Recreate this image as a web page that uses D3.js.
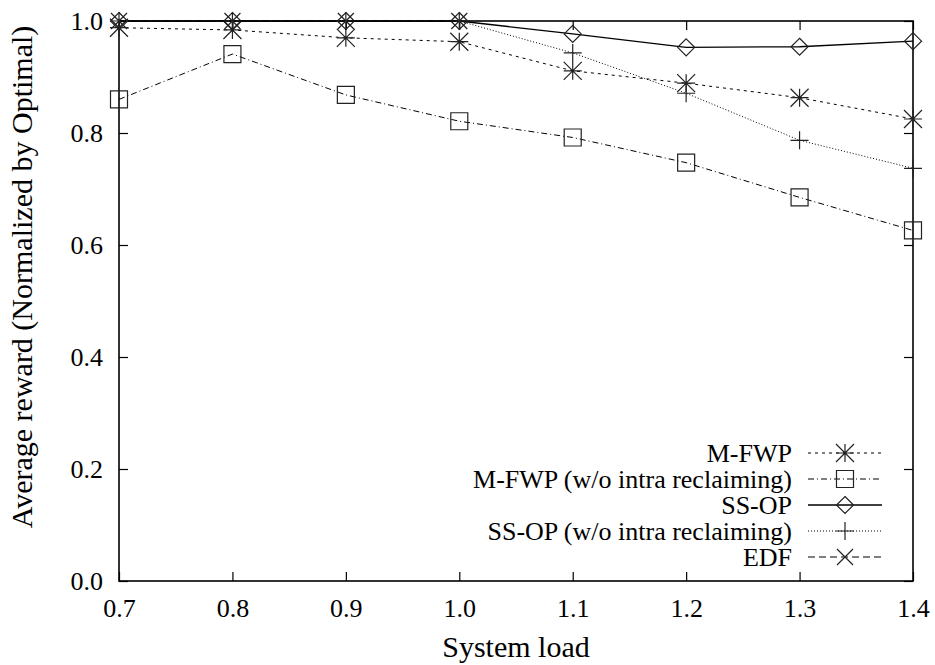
<!DOCTYPE html>
<html>
<head>
<meta charset="utf-8">
<script src="https://cdn.jsdelivr.net/npm/d3@7"></script>
<style>
  body { margin: 0; background: #fff; }
  svg text { font-family: "Liberation Serif", Tinos, "Times New Roman", "DejaVu Serif", serif; fill: #000; }
</style>
</head>
<body>
<svg id="chart" width="935" height="665"></svg>
<script>
// Data
const loads = [0.7, 0.8, 0.9, 1.0, 1.1, 1.2, 1.3, 1.4];
const yTicks = [0.0, 0.2, 0.4, 0.6, 0.8, 1.0];
const mfwp        = [0.988, 0.984, 0.970, 0.963, 0.911, 0.889, 0.863, 0.825];
const mfwpNoIntra = [0.860, 0.941, 0.868, 0.821, 0.792, 0.747, 0.685, 0.626];
const ssop        = [1.0, 1.0, 1.0, 1.0, 0.977, 0.953, 0.954, 0.964];
const ssopNoIntra = [1.0, 1.0, 1.0, 1.0, 0.943, 0.871, 0.787, 0.737];
const edf         = [1.0, 1.0, 1.0, 1.0];
const seriesNames = ["M-FWP", "M-FWP (w/o intra reclaiming)", "SS-OP", "SS-OP (w/o intra reclaiming)", "EDF"];

const series = [
    { name: seriesNames[0], values: mfwp,        dash: "3,4",     mark: "star",    width: 1 },
    { name: seriesNames[1], values: mfwpNoIntra, dash: "6,3,1,3", mark: "square",  width: 1 },
    { name: seriesNames[2], values: ssop,        dash: null,      mark: "diamond", width: 1.3 },
    { name: seriesNames[3], values: ssopNoIntra, dash: "1,2",     mark: "plus",    width: 1 },
    { name: seriesNames[4], values: edf,         dash: "7,4",     mark: "cross",   width: 1 }
];

const serif = "'Liberation Serif', Tinos, 'Times New Roman', 'DejaVu Serif', serif";
const margin = { top: 21, right: 22, bottom: 84, left: 119 };
const W = 935, H = 665;
const svg = d3.select("#chart");

const x = d3.scaleLinear().domain([0.7, 1.4]).range([margin.left, W - margin.right]);
const y = d3.scaleLinear().domain([0, 1]).range([H - margin.bottom, margin.top]);

// marker shapes (gnuplot style)
function markPath(type, cx, cy) {
    const p = d3.path();
    if (type === "star") {
        const r = 9;
        p.moveTo(cx - r, cy); p.lineTo(cx + r, cy);
        p.moveTo(cx, cy - r); p.lineTo(cx, cy + r);
        p.moveTo(cx - r, cy - r); p.lineTo(cx + r, cy + r);
        p.moveTo(cx - r, cy + r); p.lineTo(cx + r, cy - r);
    } else if (type === "square") {
        const r = 8.5;
        p.rect(cx - r, cy - r, 2 * r, 2 * r);
    } else if (type === "diamond") {
        const r = 8.5;
        p.moveTo(cx, cy - r); p.lineTo(cx + r, cy); p.lineTo(cx, cy + r); p.lineTo(cx - r, cy); p.closePath();
    } else if (type === "plus") {
        const r = 9;
        p.moveTo(cx - r, cy); p.lineTo(cx + r, cy);
        p.moveTo(cx, cy - r); p.lineTo(cx, cy + r);
    } else if (type === "cross") {
        const r = 8;
        p.moveTo(cx - r, cy - r); p.lineTo(cx + r, cy + r);
        p.moveTo(cx - r, cy + r); p.lineTo(cx + r, cy - r);
    }
    return p.toString();
}

// axes: inward ticks on all four sides
const tickLen = 9;
const fmt = d3.format(".1f");

const gBottom = svg.append("g")
    .attr("transform", `translate(0,${y(0)})`)
    .call(d3.axisBottom(x).tickValues(loads).tickFormat(fmt).tickSize(-tickLen).tickPadding(18));
const gTop = svg.append("g")
    .attr("transform", `translate(0,${y(1)})`)
    .call(d3.axisTop(x).tickValues(loads).tickFormat("").tickSize(-tickLen));
const gLeft = svg.append("g")
    .attr("transform", `translate(${x(0.7)},0)`)
    .call(d3.axisLeft(y).tickValues(yTicks).tickFormat(fmt).tickSize(-tickLen).tickPadding(16));
const gRight = svg.append("g")
    .attr("transform", `translate(${x(1.4)},0)`)
    .call(d3.axisRight(y).tickValues(yTicks).tickFormat("").tickSize(-tickLen));

[gBottom, gTop, gLeft, gRight].forEach(g => {
    g.attr("font-family", serif).attr("font-size", 26);
    g.select(".domain").remove();
    g.selectAll("line").attr("stroke", "#000").attr("stroke-width", 1.2);
    g.selectAll("text").attr("fill", "#000");
});

// border
svg.append("rect")
    .attr("x", x(0.7)).attr("y", y(1))
    .attr("width", x(1.4) - x(0.7)).attr("height", y(0) - y(1))
    .attr("fill", "none").attr("stroke", "#000").attr("stroke-width", 1.6);

// lines + markers
const line = d3.line().x((d, i) => x(loads[i])).y(d => y(d));

series.forEach(s => {
    svg.append("path")
        .attr("d", line(s.values))
        .attr("fill", "none")
        .attr("stroke", "#000")
        .attr("stroke-width", s.width)
        .attr("stroke-dasharray", s.dash);
    svg.append("g").selectAll("path")
        .data(s.values)
        .enter()
        .append("path")
        .attr("d", (d, i) => markPath(s.mark, x(loads[i]), y(d)))
        .attr("fill", "none")
        .attr("stroke", "#222")
        .attr("stroke-width", 1.2);
});

// legend
const legend = svg.append("g").attr("font-family", serif).attr("font-size", 26);
series.forEach((s, i) => {
    const ly = 453 + i * 26;
    legend.append("text")
        .attr("x", 792).attr("y", ly + 9)
        .attr("text-anchor", "end")
        .text(s.name);
    legend.append("line")
        .attr("x1", 808).attr("x2", 882).attr("y1", ly).attr("y2", ly)
        .attr("stroke", "#000").attr("stroke-width", s.width)
        .attr("stroke-dasharray", s.dash);
    legend.append("path")
        .attr("d", markPath(s.mark, 845, ly))
        .attr("fill", "none").attr("stroke", "#222").attr("stroke-width", 1.2);
});

// axis titles
svg.append("text")
    .attr("x", (x(0.7) + x(1.4)) / 2).attr("y", 657)
    .attr("text-anchor", "middle")
    .attr("font-family", serif)
    .attr("font-size", 30)
    .text("System load");

svg.append("text")
    .attr("transform", `translate(21,277) rotate(-90)`)
    .attr("text-anchor", "middle")
    .attr("dominant-baseline", "central")
    .attr("font-family", serif)
    .attr("font-size", 30)
    .text("Average reward (Normalized by Optimal)");
</script>
</body>
</html>
